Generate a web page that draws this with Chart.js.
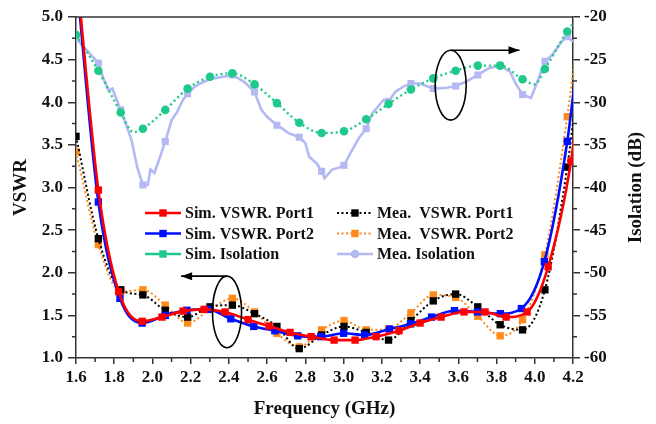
<!DOCTYPE html>
<html>
<head>
<meta charset="utf-8">
<script src="https://cdn.jsdelivr.net/npm/chart.js@4/dist/chart.umd.min.js"></script>
<style>
  body { margin: 0; background: #fff; }
  #wrap { width: 656px; height: 424px; }
</style>
</head>
<body>
<div id="wrap"><canvas id="chart" width="656" height="424"></canvas></div>
<script>
// --- data ---
const freqTicks = [1.6, 1.8, 2.0, 2.2, 2.4, 2.6, 2.8, 3.0, 3.2, 3.4, 3.6, 3.8, 4.0, 4.2];
const vswrTicks = [1.0, 1.5, 2.0, 2.5, 3.0, 3.5, 4.0, 4.5, 5.0];
const isoTicks = [-60, -55, -50, -45, -40, -35, -30, -25, -20];

// Sim. VSWR Port1 (red)
const simFreq1 = [1.60, 1.717, 1.823, 1.946, 2.05, 2.16, 2.27, 2.38, 2.50, 2.61, 2.72, 2.83, 2.95, 3.06, 3.17, 3.29, 3.40, 3.51, 3.63, 3.74, 3.85, 3.96, 4.07, 4.19, 4.21];
const simPort1 = [5.60, 2.97, 1.78, 1.43, 1.48, 1.55, 1.57, 1.54, 1.45, 1.375, 1.30, 1.25, 1.21, 1.21, 1.25, 1.32, 1.41, 1.48, 1.54, 1.54, 1.48, 1.54, 2.07, 3.31, 3.67];

// Sim. VSWR Port2 (blue)
const simFreq2 = [1.60, 1.717, 1.83, 1.946, 2.067, 2.18, 2.29, 2.41, 2.53, 2.64, 2.76, 2.88, 3.00, 3.11, 3.24, 3.35, 3.46, 3.58, 3.70, 3.82, 3.93, 4.05, 4.17, 4.21];
const simPort2 = [5.50, 2.83, 1.70, 1.41, 1.50, 1.56, 1.57, 1.46, 1.37, 1.32, 1.26, 1.25, 1.29, 1.27, 1.34, 1.40, 1.48, 1.555, 1.54, 1.52, 1.58, 2.13, 3.54, 4.26];

// measured curves share one frequency grid
const meaFreq = [1.600, 1.717, 1.834, 1.950, 2.067, 2.184, 2.301, 2.418, 2.534, 2.651, 2.768, 2.885, 3.002, 3.118, 3.235, 3.352, 3.469, 3.586, 3.702, 3.819, 3.936, 4.053, 4.170, 4.21];
const meaPort1 = [3.60, 2.40, 1.80, 1.74, 1.56, 1.48, 1.60, 1.62, 1.52, 1.37, 1.11, 1.27, 1.37, 1.30, 1.21, 1.44, 1.67, 1.75, 1.60, 1.39, 1.33, 1.80, 3.24, 3.95];
const meaPort2 = [3.42, 2.33, 1.78, 1.80, 1.62, 1.41, 1.57, 1.70, 1.54, 1.29, 1.13, 1.33, 1.44, 1.33, 1.34, 1.53, 1.74, 1.71, 1.49, 1.26, 1.45, 2.21, 3.83, 4.54];

// Sim. Isolation (green)
const simIsoFreq = [1.600, 1.717, 1.834, 1.90, 1.950, 2.067, 2.184, 2.301, 2.418, 2.534, 2.651, 2.768, 2.885, 3.002, 3.118, 3.235, 3.352, 3.469, 3.586, 3.702, 3.819, 3.936, 4.00, 4.053, 4.170, 4.21];
const simIso = [-22.1, -26.3, -31.2, -33.5, -33.1, -30.9, -28.4, -27.0, -26.6, -27.9, -30.1, -32.4, -33.6, -33.4, -32.0, -30.2, -28.5, -27.2, -26.3, -25.7, -25.7, -27.3, -27.9, -26.1, -21.7, -20.5];

// Mea. Isolation (lavender)
const meaIsoFreq = [1.600, 1.717, 1.74, 1.77, 1.79, 1.834, 1.86, 1.89, 1.92, 1.950, 1.975, 1.99, 2.01, 2.04, 2.067, 2.10, 2.13, 2.16, 2.184, 2.22, 2.25, 2.29, 2.32, 2.37, 2.418, 2.48, 2.534, 2.57, 2.60, 2.651, 2.68, 2.71, 2.768, 2.80, 2.82, 2.86, 2.885, 2.90, 2.94, 2.97, 3.002, 3.04, 3.08, 3.118, 3.15, 3.18, 3.21, 3.235, 3.27, 3.31, 3.352, 3.40, 3.469, 3.54, 3.586, 3.64, 3.702, 3.76, 3.819, 3.87, 3.90, 3.936, 3.98, 4.01, 4.053, 4.09, 4.14, 4.170, 4.20, 4.21];
const meaIso = [-22.5, -25.4, -27.0, -28.6, -28.4, -30.9, -32.5, -34.4, -37.6, -39.7, -39.7, -37.9, -38.3, -36.4, -34.6, -32.1, -31.1, -29.7, -29.0, -28.2, -27.8, -27.4, -27.2, -27.0, -26.8, -27.6, -28.8, -30.9, -31.7, -32.7, -33.1, -33.6, -34.1, -34.8, -36.4, -37.2, -38.1, -38.9, -37.9, -37.7, -37.4, -35.8, -34.2, -33.1, -31.3, -30.5, -29.7, -29.9, -28.8, -28.2, -27.8, -27.8, -28.4, -28.3, -28.1, -27.6, -26.8, -26.0, -25.7, -26.4, -27.8, -29.1, -29.5, -27.8, -25.2, -24.5, -22.9, -22.3, -22.9, -23.5];

const RED = '#ff0000', BLUE = '#0010ff', BLACK = '#000000', ORANGE = '#ff8a1c', GREEN = '#1fc98b', LAV = '#b4b9f3';
const FONT = '"Liberation Serif", "Times New Roman", serif';

function pts(xs, ys) { return xs.map((f, i) => ({ x: f, y: ys[i] })); }
const onGrid = f => meaFreq.slice(0, -1).some(g => Math.abs(g - f) < 1e-6);

const datasets = [
  { data: pts(simFreq1, simPort1), yAxisID: 'y', borderColor: RED, backgroundColor: RED, borderWidth: 2.6,
    pointStyle: 'rect', pointRadius: c => (c.raw.x < 1.65 || c.raw.x > 4.2) ? 0 : 5.2, cubicInterpolationMode: 'monotone' },
  { data: pts(simFreq2, simPort2), yAxisID: 'y', borderColor: BLUE, backgroundColor: BLUE, borderWidth: 2.6,
    pointStyle: 'rect', pointRadius: c => (c.raw.x < 1.65 || c.raw.x > 4.2) ? 0 : 5.2, cubicInterpolationMode: 'monotone' },
  { data: pts(meaFreq, meaPort1), yAxisID: 'y', borderColor: BLACK, backgroundColor: BLACK, borderWidth: 2, borderDash: [2, 2.5],
    pointStyle: 'rect', pointRadius: c => c.raw.x > 4.2 ? 0 : 5.2, cubicInterpolationMode: 'monotone' },
  { data: pts(meaFreq, meaPort2), yAxisID: 'y', borderColor: ORANGE, backgroundColor: ORANGE, borderWidth: 2, borderDash: [2, 2.5],
    pointStyle: 'rect', pointRadius: c => c.raw.x > 4.2 ? 0 : 5.2, cubicInterpolationMode: 'monotone' },
  { data: pts(simIsoFreq, simIso), yAxisID: 'y2', borderColor: GREEN, backgroundColor: GREEN, borderWidth: 2.4, borderDash: [2, 3],
    pointStyle: 'circle', pointRadius: c => onGrid(c.raw.x) ? 4.3 : 0, cubicInterpolationMode: 'monotone' },
  { data: pts(meaIsoFreq, meaIso), yAxisID: 'y2', borderColor: LAV, backgroundColor: LAV, borderWidth: 2.6,
    pointStyle: 'rect', pointRadius: c => onGrid(c.raw.x) ? 5 : 0, tension: 0 }
];
datasets.forEach(d => { d.pointBorderWidth = 0; d.pointHoverRadius = 0; d.fill = false; });

const legendRows = [
  { col: 0, row: 0, color: RED, dash: [], marker: 'rect', text: 'Sim. VSWR. Port1' },
  { col: 0, row: 1, color: BLUE, dash: [], marker: 'rect', text: 'Sim. VSWR. Port2' },
  { col: 0, row: 2, color: GREEN, dash: [], marker: 'rect', text: 'Sim. Isolation' },
  { col: 1, row: 0, color: BLACK, dash: [2, 2.5], marker: 'rect', text: 'Mea.  VSWR. Port1' },
  { col: 1, row: 1, color: ORANGE, dash: [2, 2.5], marker: 'rect', text: 'Mea.  VSWR. Port2' },
  { col: 1, row: 2, color: LAV, dash: [], marker: 'circle', text: 'Mea. Isolation' }
];

function arrow(ctx, x0, y0, x1, y1) {
  ctx.beginPath(); ctx.moveTo(x0, y0); ctx.lineTo(x1, y1); ctx.stroke();
  const dir = Math.sign(x1 - x0);
  ctx.beginPath();
  ctx.moveTo(x1, y1); ctx.lineTo(x1 - dir * 11, y1 - 4); ctx.lineTo(x1 - dir * 11, y1 + 4);
  ctx.closePath(); ctx.fill();
}

const decor = {
  id: 'decor',
  afterDraw(chart) {
    const { ctx, chartArea: a } = chart;
    const { x, y, y2 } = chart.scales;
    ctx.save();
    ctx.strokeStyle = '#333'; ctx.lineWidth = 1.5;
    // top frame line
    ctx.beginPath(); ctx.moveTo(a.left, a.top); ctx.lineTo(a.right, a.top); ctx.stroke();
    // minor ticks halfway between labelled ticks
    ctx.beginPath();
    for (let i = 0; i < freqTicks.length - 1; i++) {
      const px = x.getPixelForValue((freqTicks[i] + freqTicks[i + 1]) / 2);
      ctx.moveTo(px, a.bottom); ctx.lineTo(px, a.bottom + 4);
    }
    for (let i = 0; i < vswrTicks.length - 1; i++) {
      const py = y.getPixelForValue((vswrTicks[i] + vswrTicks[i + 1]) / 2);
      ctx.moveTo(a.left, py); ctx.lineTo(a.left - 4, py);
    }
    for (let i = 0; i < isoTicks.length - 1; i++) {
      const py = y2.getPixelForValue((isoTicks[i] + isoTicks[i + 1]) / 2);
      ctx.moveTo(a.right, py); ctx.lineTo(a.right + 4, py);
    }
    ctx.stroke();

    // ellipses + arrows
    ctx.strokeStyle = '#000'; ctx.fillStyle = '#000'; ctx.lineWidth = 1.6;
    let cx = x.getPixelForValue(2.39), cy = y.getPixelForValue(1.54);
    let rx = x.getPixelForValue(2.466) - cx, ry = cy - y.getPixelForValue(1.96);
    ctx.beginPath(); ctx.ellipse(cx, cy, rx, ry, 0, 0, Math.PI * 2); ctx.stroke();
    arrow(ctx, cx, cy - ry, x.getPixelForValue(2.15), cy - ry);
    cx = x.getPixelForValue(3.56); cy = y2.getPixelForValue(-28.0);
    rx = x.getPixelForValue(3.641) - cx; ry = cy - y2.getPixelForValue(-23.9);
    ctx.beginPath(); ctx.ellipse(cx, cy, rx, ry, 0, 0, Math.PI * 2); ctx.stroke();
    arrow(ctx, cx, cy - ry, x.getPixelForValue(3.92), cy - ry);

    // legend inside the plot
    ctx.font = 'bold 16px ' + FONT;
    ctx.textBaseline = 'middle'; ctx.textAlign = 'left';
    legendRows.forEach(it => {
      const lx = a.left + (it.col === 0 ? 69 : 261);
      const ly = a.top + 196 + it.row * 20.5;
      ctx.strokeStyle = it.color; ctx.fillStyle = it.color;
      ctx.lineWidth = it.dash.length ? 2 : 2.6; ctx.setLineDash(it.dash);
      ctx.beginPath(); ctx.moveTo(lx, ly); ctx.lineTo(lx + 36, ly); ctx.stroke();
      ctx.setLineDash([]);
      const mx = lx + 18;
      ctx.beginPath();
      if (it.marker === 'rect') ctx.rect(mx - 3.7, ly - 3.7, 7.4, 7.4);
      else ctx.arc(mx, ly, 4.3, 0, Math.PI * 2);
      ctx.fill();
      ctx.fillStyle = '#111';
      ctx.fillText(it.text, lx + 40, ly + 1);
    });

    // right axis title, reading bottom to top
    ctx.save();
    ctx.translate(a.right + 63, (a.top + a.bottom) / 2);
    ctx.rotate(-Math.PI / 2);
    ctx.font = 'bold 19px ' + FONT; ctx.fillStyle = '#111';
    ctx.textAlign = 'center'; ctx.textBaseline = 'middle';
    ctx.fillText('Isolation (dB)', 0, 0);
    ctx.restore();
    ctx.restore();
  }
};

const tickFont = { family: FONT, size: 17, weight: 'bold' };
const axisGrid = { display: true, drawOnChartArea: false, drawTicks: true, tickLength: 7, color: '#333', lineWidth: 1.5 };
const axisBorder = { display: true, color: '#333', width: 1.5 };

new Chart(document.getElementById('chart'), {
  type: 'line',
  data: { datasets },
  options: {
    responsive: false,
    animation: false,
    devicePixelRatio: 1,
    layout: { padding: { top: 17, left: 0, right: 0, bottom: 0 } },
    plugins: { legend: { display: false }, tooltip: { enabled: false } },
    scales: {
      x: {
        type: 'linear', min: 1.6, max: 4.2,
        afterBuildTicks: s => { s.ticks = freqTicks.map(v => ({ value: v })); },
        afterFit: s => { s.height = 66; },
        ticks: { font: tickFont, color: '#111', padding: 3, maxRotation: 0, autoSkip: false, callback: v => v.toFixed(1) },
        grid: { ...axisGrid, tickLength: 6 }, border: axisBorder,
        title: { display: true, text: 'Frequency (GHz)', font: { family: FONT, size: 19, weight: 'bold' }, color: '#111', padding: { top: 0, bottom: 4 } }
      },
      y: {
        type: 'linear', position: 'left', min: 1, max: 5,
        afterBuildTicks: s => { s.ticks = vswrTicks.map(v => ({ value: v })); },
        afterFit: s => { s.width = 76; },
        ticks: { font: tickFont, color: '#111', padding: 5, autoSkip: false, callback: v => v.toFixed(1) },
        grid: { ...axisGrid, tickLength: 8 }, border: axisBorder,
        title: { display: true, text: 'VSWR', font: { family: FONT, size: 19, weight: 'bold' }, color: '#111', padding: { top: 10, bottom: 0 } }
      },
      y2: {
        type: 'linear', position: 'right', min: -60, max: -20,
        afterBuildTicks: s => { s.ticks = isoTicks.map(v => ({ value: v })); },
        afterFit: s => { s.width = 83; },
        ticks: { font: tickFont, color: '#111', padding: 4, autoSkip: false, callback: v => String(v) },
        grid: { ...axisGrid, tickLength: 7 }, border: axisBorder
      }
    }
  },
  plugins: [decor]
});
</script>
</body>
</html>
